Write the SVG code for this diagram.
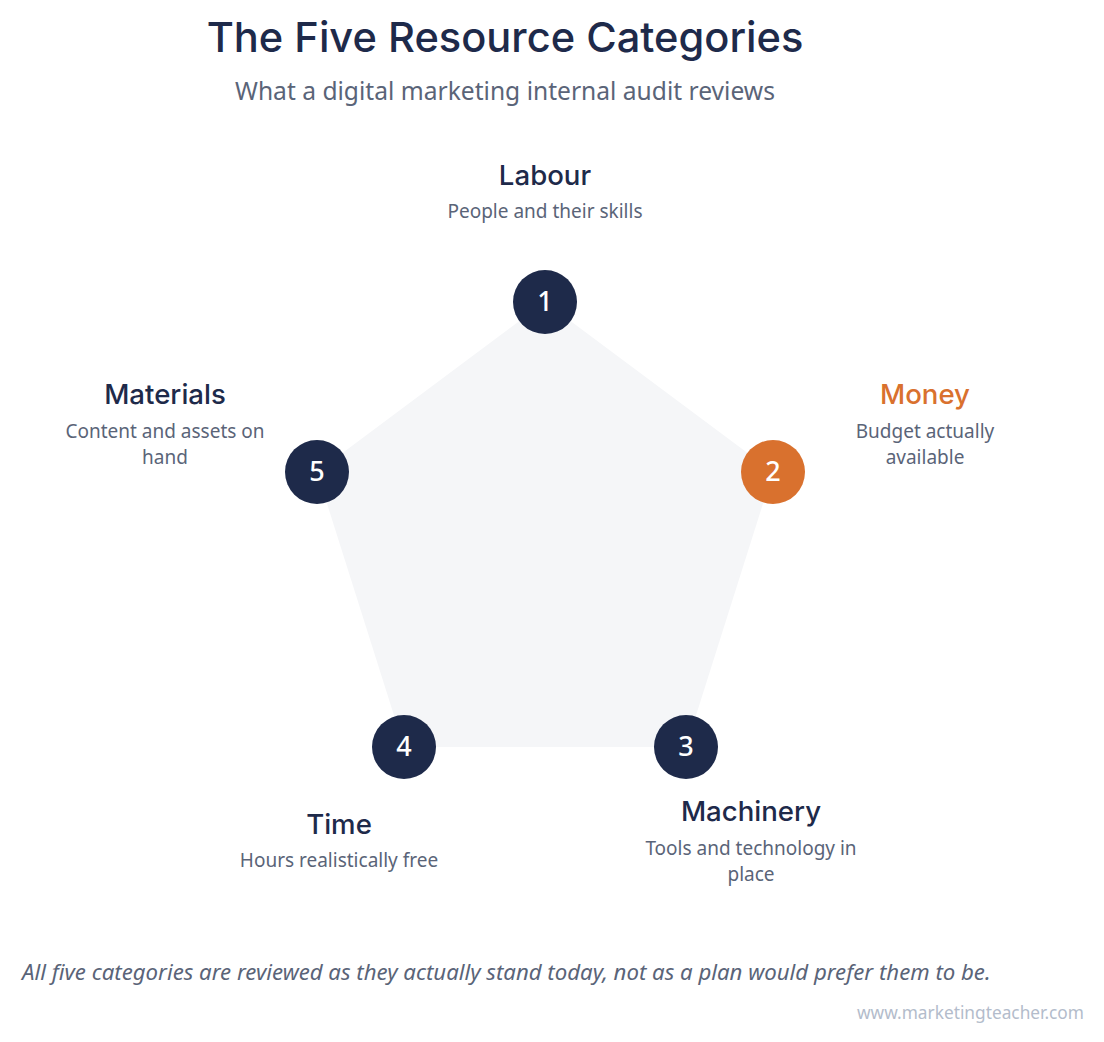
<svg xmlns="http://www.w3.org/2000/svg" width="1104" height="1042" viewBox="0 0 1104 1042">
<style>
.title{font-family:"Inter","Liberation Sans",sans-serif;font-size:41.6px;font-weight:500;fill:#1e2a4a}
.sub{font-family:"Noto Sans","Liberation Sans",sans-serif;font-size:24.6px;fill:#5a6478}
.head{font-family:"Inter","Liberation Sans",sans-serif;font-size:27.6px;font-weight:500;fill:#1e2a4a}
.desc{font-family:"Noto Sans","Liberation Sans",sans-serif;font-size:19px;fill:#5a6478}
.num{font-family:"Noto Sans","Liberation Sans",sans-serif;font-size:27px;font-weight:500;fill:#ffffff}
.c{fill:#1e2a4a}
.foot{font-family:"Noto Sans","Liberation Sans",sans-serif;font-size:22.2px;font-style:italic;fill:#5a6478}
.web{font-family:"Noto Sans","Liberation Sans",sans-serif;font-size:17.3px;fill:#b3bccb}
text{text-anchor:middle}
</style>
<rect width="1104" height="1042" fill="#ffffff"/>
<text class="title" x="505" y="52">The Five Resource Categories</text>
<text class="sub" x="505" y="100">What a digital marketing internal audit reviews</text>
<g id="connectors">
<polygon points="545,302 773,472 686,747 404,747 317,472" fill="#f5f6f8"/>
</g>
<g id="node1">
<text class="head" x="545" y="185">Labour</text>
<text class="desc" x="545" y="218">People and their skills</text>
<circle cx="545" cy="302" r="32" class="c"/>
<text class="num" x="545" y="311">1</text>
</g>
<g id="node2">
<text class="head" x="925" y="404" style="fill:#d9712e">Money</text>
<text class="desc" x="925" y="438">Budget actually</text>
<text class="desc" x="925" y="464">available</text>
<circle cx="773" cy="472" r="32" fill="#d9712e"/>
<text class="num" x="773" y="481">2</text>
</g>
<g id="node3">
<text class="head" x="751" y="821">Machinery</text>
<text class="desc" x="751" y="855">Tools and technology in</text>
<text class="desc" x="751" y="881">place</text>
<circle cx="686" cy="747" r="32" class="c"/>
<text class="num" x="686" y="756">3</text>
</g>
<g id="node4">
<text class="head" x="339" y="834">Time</text>
<text class="desc" x="339" y="867">Hours realistically free</text>
<circle cx="404" cy="747" r="32" class="c"/>
<text class="num" x="404" y="756">4</text>
</g>
<g id="node5">
<text class="head" x="165" y="404">Materials</text>
<text class="desc" x="165" y="438">Content and assets on</text>
<text class="desc" x="165" y="464">hand</text>
<circle cx="317" cy="472" r="32" class="c"/>
<text class="num" x="317" y="481">5</text>
</g>
<text class="foot" x="22" y="980" style="text-anchor:start">All five categories are reviewed as they actually stand today, not as a plan would prefer them to be.</text>
<text class="web" x="1084" y="1019" style="text-anchor:end">www.marketingteacher.com</text>
</svg>
